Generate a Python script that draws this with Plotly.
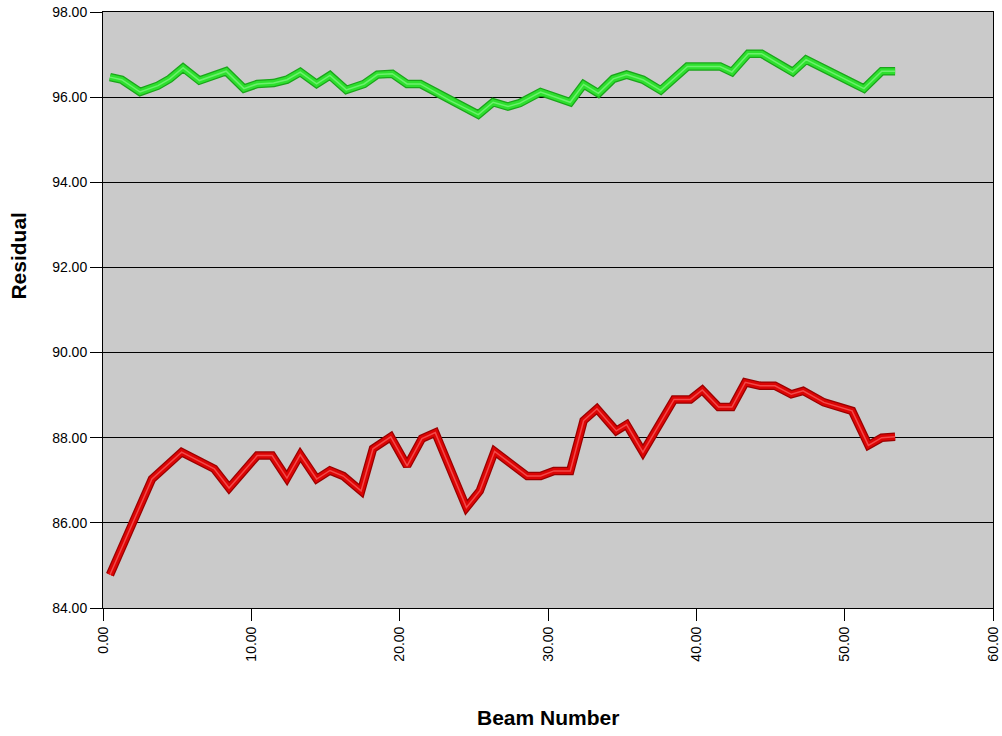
import plotly.graph_objects as go

# Green series (upper)
green_x = [0.47, 1.26, 2.5, 3.7, 4.5, 5.4, 6.5, 8.3, 9.5, 10.4, 11.5, 12.4, 13.3, 14.4, 15.3, 16.4,
           17.6, 18.5, 19.5, 20.5, 21.4, 23.4, 25.3, 26.3, 27.3, 28.1, 29.5, 31.5, 32.4, 33.4, 34.4,
           35.3, 36.4, 37.6, 39.4, 41.6, 42.4, 43.5, 44.4, 46.5, 47.4, 51.3, 52.5, 53.4]
green_y = [96.47, 96.41, 96.12, 96.27, 96.43, 96.69, 96.39, 96.61, 96.20, 96.31, 96.33, 96.41, 96.59,
           96.31, 96.51, 96.17, 96.31, 96.53, 96.55, 96.31, 96.31, 95.92, 95.59, 95.88, 95.78, 95.86,
           96.12, 95.88, 96.30, 96.09, 96.43, 96.53, 96.41, 96.16, 96.72, 96.72, 96.59, 97.02, 97.02,
           96.59, 96.88, 96.20, 96.61, 96.61]

# Red series (lower)
red_x = [0.47, 3.3, 5.3, 7.5, 8.5, 10.4, 11.4, 12.4, 13.3, 14.4, 15.3, 16.2, 17.4, 18.2, 19.4,
         20.5, 21.5, 22.4, 24.5, 25.4, 26.4, 28.6, 29.5, 30.4, 31.5, 32.4, 33.3, 34.6, 35.3, 36.4,
         38.5, 39.6, 40.4, 41.5, 42.4, 43.3, 44.3, 45.3, 46.4, 47.2, 48.6, 50.5, 51.6, 52.5, 53.4]
red_y = [84.78, 87.03, 87.66, 87.27, 86.82, 87.58, 87.58, 87.05, 87.60, 87.03, 87.23, 87.10, 86.75,
         87.74, 88.02, 87.34, 87.98, 88.12, 86.36, 86.75, 87.68, 87.10, 87.10, 87.22, 87.22, 88.40,
         88.68, 88.16, 88.31, 87.66, 88.90, 88.90, 89.12, 88.72, 88.72, 89.30, 89.22, 89.22, 89.02,
         89.10, 88.83, 88.63, 87.82, 88.00, 88.02]

x_ticks = [0, 10, 20, 30, 40, 50, 60]
y_ticks = [84, 86, 88, 90, 92, 94, 96, 98]

fig = go.Figure()
for xs, ys, dark, body, light in [
    (green_x, green_y, "#1aa51a", "#2ee02e", "#6cf06c"),
    (red_x, red_y, "#9a0000", "#dc0505", "#f24848"),
]:
    fig.add_trace(go.Scatter(x=xs, y=ys, mode="lines", line=dict(color=dark, width=8.5),
                             hoverinfo="skip", showlegend=False))
    fig.add_trace(go.Scatter(x=xs, y=ys, mode="lines", line=dict(color=body, width=6),
                             hoverinfo="skip", showlegend=False))
    fig.add_trace(go.Scatter(x=xs, y=ys, mode="lines", line=dict(color=light, width=1.5),
                             showlegend=False))

fig.update_layout(
    width=1002, height=736,
    margin=dict(l=103, r=9, t=12, b=128),
    paper_bgcolor="white",
    plot_bgcolor="#cacaca",
    font=dict(family="Liberation Sans, Arial, sans-serif", size=14, color="black"),
    showlegend=False,
    annotations=[
        dict(text="<b>Beam Number</b>", xref="paper", yref="paper", x=0.5, y=-0.183,
             xanchor="center", yanchor="middle", showarrow=False, font=dict(size=21)),
        dict(text="<b>Residual</b>", xref="paper", yref="paper", x=-0.095, y=0.592,
             xanchor="center", yanchor="middle", showarrow=False, textangle=-90,
             font=dict(size=21)),
    ],
)
fig.update_xaxes(
    range=[0, 60], tickvals=x_ticks, ticktext=[f"{v:.2f}" for v in x_ticks],
    tickangle=-90, ticks="outside", ticklen=12, tickcolor="black",
    showline=True, linecolor="black", linewidth=1, mirror=True,
    showgrid=False, zeroline=False, automargin=False, ticklabeloverflow="allow",
)
fig.update_yaxes(
    range=[84, 98], tickvals=y_ticks, ticktext=[f"{v:.2f}" for v in y_ticks],
    ticks="outside", ticklen=12, tickcolor="black",
    showline=True, linecolor="black", linewidth=1, mirror=True,
    showgrid=True, gridcolor="black", gridwidth=1, zeroline=False, automargin=False,
    ticklabeloverflow="allow",
)

fig.write_html(
    "out.html",
    config={"displayModeBar": False},
    post_script="document.body.style.margin='0';document.body.style.overflow='hidden';",
)
